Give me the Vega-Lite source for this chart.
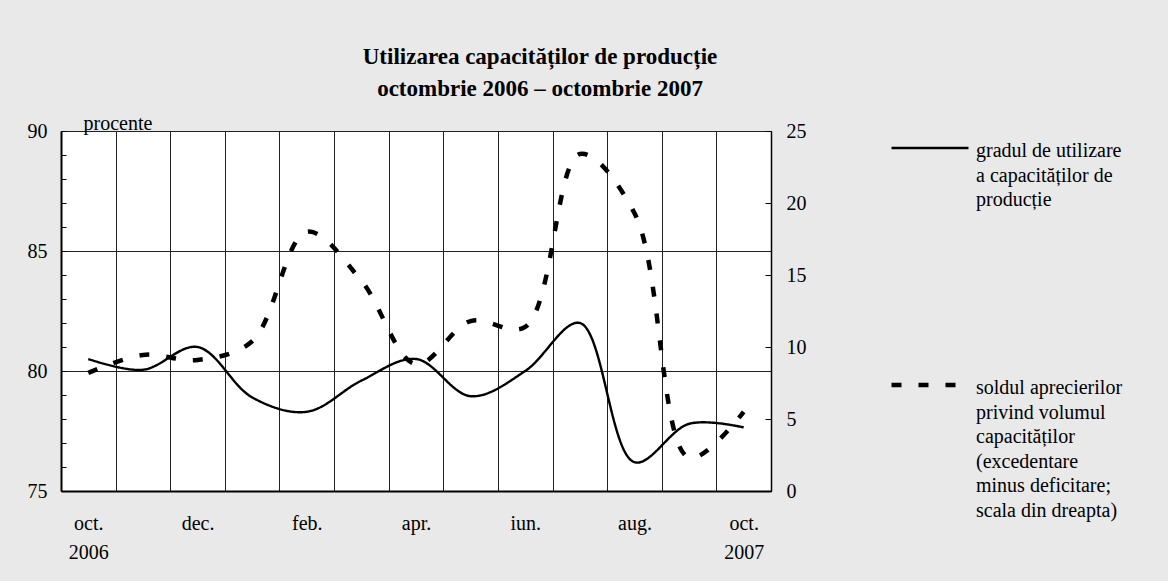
{
  "$schema": "https://vega.github.io/schema/vega-lite/v6.json",
  "width": 710,
  "height": 360,
  "autosize": {"type": "none"},
  "padding": {"left": 61, "top": 131, "right": 397, "bottom": 90},
  "background": "#e9e9e9",
  "config": {
    "font": "Liberation Serif",
    "view": {"fill": "white", "stroke": "black", "strokeWidth": 1},
    "legend": {"labelFont": "Liberation Serif"}
  },
  "title": {
    "text": ["Utilizarea capacităților de producție", "octombrie 2006 – octombrie 2007"],
    "font": "Liberation Serif",
    "fontSize": 23,
    "fontWeight": "bold",
    "lineHeight": 32,
    "color": "black",
    "anchor": "middle",
    "frame": "group",
    "dx": 124,
    "dy": 46,
    "baseline": "bottom",
    "offset": 30
  },
  "data": {
    "values": [
      {"luna": "oct. 2006", "serie": "gradul de utilizare\na capacităților de\nproducție", "valoare": 80.5},
      {"luna": "nov. 2006", "serie": "gradul de utilizare\na capacităților de\nproducție", "valoare": 80.05},
      {"luna": "dec. 2006", "serie": "gradul de utilizare\na capacităților de\nproducție", "valoare": 81.0},
      {"luna": "ian. 2007", "serie": "gradul de utilizare\na capacităților de\nproducție", "valoare": 78.9},
      {"luna": "feb. 2007", "serie": "gradul de utilizare\na capacităților de\nproducție", "valoare": 78.3},
      {"luna": "mar. 2007", "serie": "gradul de utilizare\na capacităților de\nproducție", "valoare": 79.6},
      {"luna": "apr. 2007", "serie": "gradul de utilizare\na capacităților de\nproducție", "valoare": 80.5},
      {"luna": "mai 2007", "serie": "gradul de utilizare\na capacităților de\nproducție", "valoare": 78.95},
      {"luna": "iun. 2007", "serie": "gradul de utilizare\na capacităților de\nproducție", "valoare": 80.0},
      {"luna": "iul. 2007", "serie": "gradul de utilizare\na capacităților de\nproducție", "valoare": 82.0},
      {"luna": "aug. 2007", "serie": "gradul de utilizare\na capacităților de\nproducție", "valoare": 76.2},
      {"luna": "sep. 2007", "serie": "gradul de utilizare\na capacităților de\nproducție", "valoare": 77.8},
      {"luna": "oct. 2007", "serie": "gradul de utilizare\na capacităților de\nproducție", "valoare": 77.65},
      {"luna": "oct. 2006", "serie": "soldul aprecierilor\nprivind volumul\ncapacităților\n(excedentare\nminus deficitare;\nscala din dreapta)", "valoare": 8.2},
      {"luna": "nov. 2006", "serie": "soldul aprecierilor\nprivind volumul\ncapacităților\n(excedentare\nminus deficitare;\nscala din dreapta)", "valoare": 9.45},
      {"luna": "dec. 2006", "serie": "soldul aprecierilor\nprivind volumul\ncapacităților\n(excedentare\nminus deficitare;\nscala din dreapta)", "valoare": 9.1},
      {"luna": "ian. 2007", "serie": "soldul aprecierilor\nprivind volumul\ncapacităților\n(excedentare\nminus deficitare;\nscala din dreapta)", "valoare": 10.4},
      {"luna": "feb. 2007", "serie": "soldul aprecierilor\nprivind volumul\ncapacităților\n(excedentare\nminus deficitare;\nscala din dreapta)", "valoare": 18.0},
      {"luna": "mar. 2007", "serie": "soldul aprecierilor\nprivind volumul\ncapacităților\n(excedentare\nminus deficitare;\nscala din dreapta)", "valoare": 14.6},
      {"luna": "apr. 2007", "serie": "soldul aprecierilor\nprivind volumul\ncapacităților\n(excedentare\nminus deficitare;\nscala din dreapta)", "valoare": 8.8},
      {"luna": "mai 2007", "serie": "soldul aprecierilor\nprivind volumul\ncapacităților\n(excedentare\nminus deficitare;\nscala din dreapta)", "valoare": 11.8},
      {"luna": "iun. 2007", "serie": "soldul aprecierilor\nprivind volumul\ncapacităților\n(excedentare\nminus deficitare;\nscala din dreapta)", "valoare": 11.4},
      {"luna": "iul. 2007", "serie": "soldul aprecierilor\nprivind volumul\ncapacităților\n(excedentare\nminus deficitare;\nscala din dreapta)", "valoare": 23.4},
      {"luna": "aug. 2007", "serie": "soldul aprecierilor\nprivind volumul\ncapacităților\n(excedentare\nminus deficitare;\nscala din dreapta)", "valoare": 19.3},
      {"luna": "sep. 2007", "serie": "soldul aprecierilor\nprivind volumul\ncapacităților\n(excedentare\nminus deficitare;\nscala din dreapta)", "valoare": 2.3},
      {"luna": "oct. 2007", "serie": "soldul aprecierilor\nprivind volumul\ncapacităților\n(excedentare\nminus deficitare;\nscala din dreapta)", "valoare": 5.5}
    ]
  },
  "encoding": {
    "x": {
      "field": "luna",
      "type": "ordinal",
      "sort": null,
      "bandPosition": 0.5,
      "scale": {"type": "band", "paddingInner": 0, "paddingOuter": 0},
      "axis": {
        "title": null,
        "tickBand": "extent",
        "ticks": false,
        "grid": true,
        "gridColor": "#222222",
        "gridWidth": 1,
        "domainColor": "black",
        "domainWidth": 2,
        "labelAngle": 0,
        "labelFont": "Liberation Serif",
        "labelFontSize": 20,
        "labelColor": "black",
        "labelPadding": 22,
        "labelLineHeight": 29,
        "labelOverlap": false,
        "labelBound": false,
        "labelExpr": "datum.label == 'oct. 2006' ? ['oct.', '2006'] : datum.label == 'oct. 2007' ? ['oct.', '2007'] : indexof(['dec. 2006', 'feb. 2007', 'apr. 2007', 'iun. 2007', 'aug. 2007'], datum.label) >= 0 ? split(datum.label, ' ')[0] : ''"
      }
    },
    "strokeDash": {
      "field": "serie",
      "type": "nominal",
      "scale": {
        "domain": ["gradul de utilizare\na capacităților de\nproducție", "soldul aprecierilor\nprivind volumul\ncapacităților\n(excedentare\nminus deficitare;\nscala din dreapta)"],
        "range": [[1, 0], [10, 17]]
      },
      "legend": {
        "title": null,
        "orient": "none",
        "legendX": 828,
        "legendY": -23,
        "direction": "vertical",
        "padding": 0,
        "symbolType": "stroke",
        "symbolSize": 5929,
        "symbolStrokeColor": "black",
        "labelFont": "Liberation Serif",
        "labelFontSize": 20,
        "labelColor": "black",
        "labelOffset": 5,
        "labelLimit": 0,
        "labelBaseline": "top",
        "rowPadding": 134,
        "labelExpr": "split(datum.label, '\\n')",
        "encode": {"labels": {"update": {"lineHeight": {"value": 24.5}, "dy": {"value": -7}}}}
      }
    },
    "strokeWidth": {
      "field": "serie",
      "type": "nominal",
      "scale": {
        "domain": ["gradul de utilizare\na capacităților de\nproducție", "soldul aprecierilor\nprivind volumul\ncapacităților\n(excedentare\nminus deficitare;\nscala din dreapta)"],
        "range": [2.4, 4.5]
      },
      "legend": {
        "title": null,
        "orient": "none",
        "legendX": 828,
        "legendY": -23,
        "direction": "vertical",
        "padding": 0,
        "symbolType": "stroke",
        "symbolSize": 5929,
        "symbolStrokeColor": "black",
        "labelFont": "Liberation Serif",
        "labelFontSize": 20,
        "labelColor": "black",
        "labelOffset": 5,
        "labelLimit": 0,
        "labelBaseline": "top",
        "rowPadding": 134,
        "labelExpr": "split(datum.label, '\\n')",
        "encode": {"labels": {"update": {"lineHeight": {"value": 24.5}, "dy": {"value": -7}}}}
      }
    }
  },
  "layer": [
    {
      "transform": [{"filter": "indexof(datum.serie, 'gradul') === 0"}],
      "mark": {"type": "line", "interpolate": "catmull-rom", "color": "black", "strokeJoin": "round"},
      "encoding": {
        "y": {
          "field": "valoare",
          "type": "quantitative",
          "scale": {"domain": [75, 90], "nice": false, "zero": false},
          "axis": {
            "orient": "left",
            "values": [75, 76, 77, 78, 79, 80, 81, 82, 83, 84, 85, 86, 87, 88, 89, 90],
            "labelExpr": "datum.value % 5 === 0 ? datum.label : ''",
            "labelOverlap": false,
            "labelFont": "Liberation Serif",
            "labelFontSize": 20,
            "labelColor": "black",
            "labelPadding": 19,
            "tickSize": -5,
            "tickColor": "black",
            "tickWidth": 1,
            "domainColor": "black",
            "domainWidth": 2,
            "grid": true,
            "gridColor": "#222222",
            "gridWidth": 1,
            "gridOpacity": {"condition": {"test": "datum.value % 5 === 0", "value": 1}, "value": 0},
            "title": "procente",
            "titleFont": "Liberation Serif",
            "titleFontSize": 20,
            "titleFontWeight": "normal",
            "titleColor": "black",
            "titleAngle": 0,
            "titleAlign": "left",
            "titleBaseline": "alphabetic",
            "titleX": 22,
            "titleY": -2
          }
        }
      }
    },
    {
      "transform": [{"filter": "indexof(datum.serie, 'soldul') === 0"}],
      "mark": {"type": "line", "interpolate": "catmull-rom", "color": "black"},
      "encoding": {
        "y": {
          "field": "valoare",
          "type": "quantitative",
          "scale": {"domain": [0, 25], "nice": false},
          "axis": {
            "orient": "right",
            "values": [0, 5, 10, 15, 20, 25],
            "labelFont": "Liberation Serif",
            "labelFontSize": 20,
            "labelColor": "black",
            "labelPadding": 21,
            "tickSize": -6,
            "tickColor": "black",
            "tickWidth": 1,
            "domainColor": "black",
            "domainWidth": 1.5,
            "grid": false,
            "title": null
          }
        }
      }
    }
  ],
  "resolve": {"scale": {"y": "independent"}, "axis": {"y": "independent"}}
}
